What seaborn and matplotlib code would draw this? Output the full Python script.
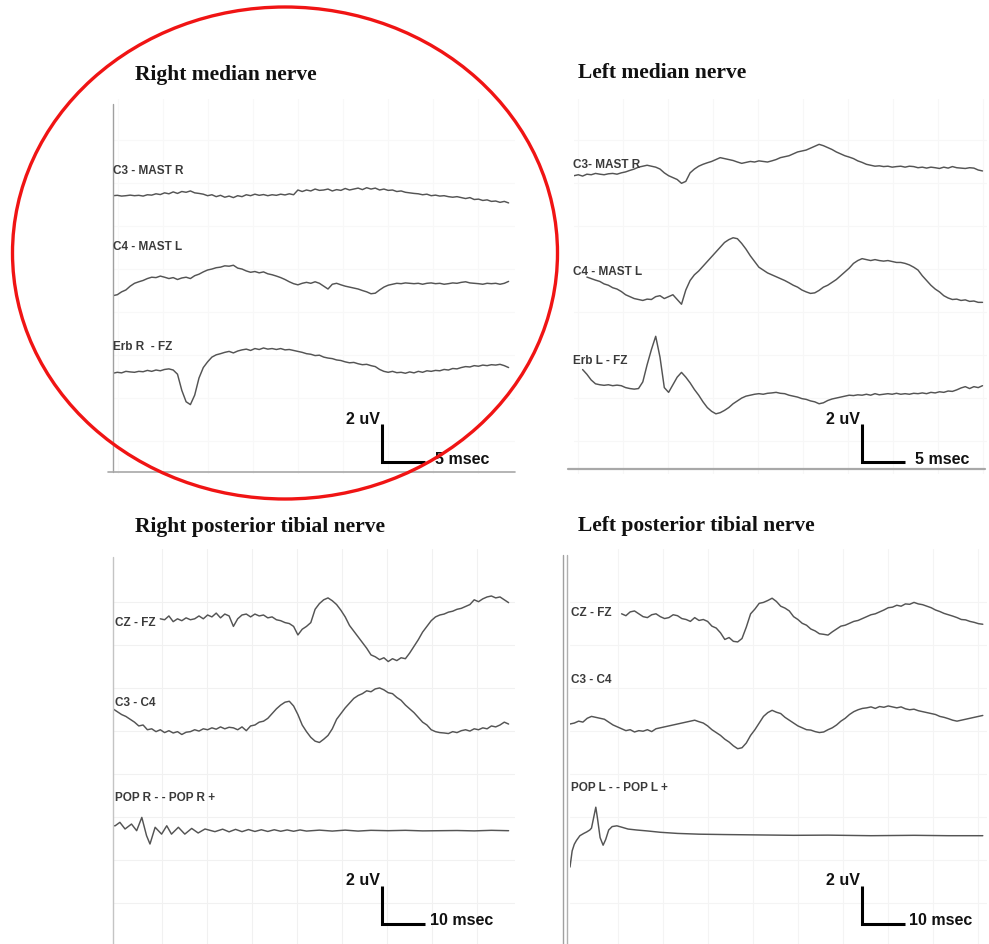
import numpy as np
import matplotlib
matplotlib.use("Agg")
import matplotlib.pyplot as plt
import seaborn as sns
from matplotlib.patches import Ellipse
from matplotlib.lines import Line2D

nan = np.nan

# ---------------- data: evoked potentials, amplitude in uV, time in ms ----------------
# right median nerve (0.5 ms samples)
tl_t = np.arange(93) * 0.5
tl_c3 = [0, 0.02, -0.02, 0.0, 0.03, 0.0, 0.02, -0.02, 0.05, 0.03,
         0.1, 0.06, 0.15, 0.1, 0.2, 0.12, 0.22, 0.18, 0.25, 0.15,
         0.12, 0.08, 0.0, 0.05, -0.05, 0.02, -0.08, -0.02, -0.1, 0.0,
         -0.05, 0.05, 0.0, 0.08, 0.02, 0.06, 0.0, 0.05, 0.02, 0.08,
         0.04, 0.1, 0.05, 0.3, 0.22, 0.3, 0.25, 0.35, 0.28, 0.3,
         0.35, 0.25, 0.32, 0.28, 0.38, 0.3, 0.35, 0.4, 0.32, 0.42,
         0.35, 0.4, 0.3, 0.35, 0.28, 0.3, 0.22, 0.25, 0.18, 0.15,
         0.12, 0.1, 0.05, 0.08, 0.0, 0.03, -0.02, 0.0, -0.05, -0.08,
         -0.05, -0.1, -0.15, -0.1, -0.2, -0.18, -0.25, -0.22, -0.3, -0.28,
         -0.35, -0.3, -0.38]
tl_c4 = [-0.35, -0.3, -0.15, -0.05, 0.15, 0.3, 0.38, 0.45, 0.55, 0.62,
         0.6, 0.68, 0.62, 0.55, 0.6, 0.5, 0.58, 0.62, 0.55, 0.7,
         0.78, 0.9, 1.0, 1.05, 1.12, 1.15, 1.22, 1.2, 1.25, 1.1,
         1.05, 0.95, 0.88, 0.92, 0.85, 0.9, 0.8, 0.75, 0.68, 0.6,
         0.5, 0.38, 0.28, 0.22, 0.3, 0.35, 0.3, 0.38, 0.3, 0.15,
         0.0, 0.25, 0.3, 0.22, 0.15, 0.1, 0.05, 0.0, -0.08, -0.15,
         -0.25, -0.22, -0.05, 0.1, 0.2, 0.25, 0.3, 0.28, 0.32, 0.3,
         0.28, 0.3, 0.25, 0.3, 0.32, 0.28, 0.3, 0.25, 0.28, 0.32,
         0.3, 0.35, 0.38, 0.32, 0.3, 0.28, 0.25, 0.3, 0.28, 0.3,
         0.25, 0.3, 0.4]
tl_erb = [-0.05, 0.0, -0.03, 0.05, 0.02, 0.0, 0.05, 0.03, 0.1, 0.05,
          0.12, 0.08, 0.15, 0.18, 0.12, -0.1, -0.95, -1.55, -1.7, -1.2,
          -0.3, 0.25, 0.55, 0.8, 0.92, 0.98, 1.05, 1.1, 1.02, 1.12,
          1.18, 1.22, 1.15, 1.25, 1.2, 1.28, 1.22, 1.25, 1.2, 1.25,
          1.18, 1.2, 1.15, 1.1, 1.05, 0.98, 0.95, 0.88, 0.9, 0.8,
          0.75, 0.72, 0.65, 0.62, 0.55, 0.5, 0.52, 0.45, 0.4, 0.42,
          0.35, 0.3, 0.15, 0.05, 0.0, 0.05, -0.02, 0.0, -0.05, 0.02,
          -0.03, 0.05, 0.0, 0.08, 0.05, 0.1, 0.08, 0.15, 0.12, 0.2,
          0.18, 0.25, 0.3, 0.28, 0.35, 0.32, 0.38, 0.35, 0.4, 0.38,
          0.42, 0.35, 0.25]

# left median nerve (0.5 ms samples)
tr_t = np.arange(96) * 0.5
tr_c3 = [0.0, 0.05, -0.02, 0.08, 0.05, 0.12, 0.08, 0.05, 0.1, 0.12,
         0.08, 0.15, 0.2, 0.28, 0.35, 0.45, 0.5, 0.55, 0.5, 0.45,
         0.35, 0.15, 0.0, -0.1, -0.2, -0.4, -0.3, 0.15, 0.35, 0.5,
         0.6, 0.68, 0.75, 0.85, 0.95, 0.9, 0.85, 0.8, 0.72, 0.65,
         0.7, 0.75, 0.72, 0.78, 0.75, 0.72, 0.78, 0.85, 0.95, 1.0,
         1.05, 1.15, 1.25, 1.3, 1.35, 1.45, 1.55, 1.65, 1.58, 1.48,
         1.38, 1.25, 1.15, 1.05, 0.98, 0.9, 0.78, 0.7, 0.6, 0.55,
         0.5, 0.52, 0.48, 0.5, 0.45, 0.48, 0.5, 0.45, 0.5, 0.48,
         0.42, 0.45, 0.4, 0.45, 0.42, 0.38, 0.45, 0.4, 0.48, 0.42,
         0.4, 0.38, 0.42, 0.4, 0.3, 0.25]
tr_c4 = [nan, nan, nan, 0.98, 0.9, 0.82, 0.75, 0.62, 0.55, 0.42,
         0.35, 0.22, 0.05, -0.05, -0.15, -0.2, -0.25, -0.18, -0.2, -0.05,
         0.0, -0.15, -0.05, 0.05, -0.2, -0.45, 0.3, 0.8, 1.1, 1.3,
         1.55, 1.8, 2.05, 2.3, 2.55, 2.8, 2.95, 3.05, 3.0, 2.75,
         2.45, 2.1, 1.8, 1.5, 1.35, 1.2, 1.1, 1.0, 0.9, 0.8,
         0.68, 0.55, 0.45, 0.3, 0.2, 0.12, 0.15, 0.28, 0.45, 0.55,
         0.7, 0.85, 1.05, 1.25, 1.45, 1.7, 1.85, 1.95, 1.9, 1.85,
         1.9, 1.85, 1.82, 1.85, 1.8, 1.75, 1.75, 1.7, 1.62, 1.5,
         1.35, 1.05, 0.8, 0.55, 0.35, 0.2, 0.0, -0.12, -0.2, -0.18,
         -0.25, -0.22, -0.3, -0.28, -0.35, -0.35]
tr_erb = [nan, nan, 0.85, 0.6, 0.3, 0.1, 0.05, 0.02, 0.05, 0.0,
          0.03, 0.0, -0.1, -0.15, -0.18, -0.15, 0.2, 1.1, 1.9, 2.6,
          1.5, -0.1, -0.35, 0.05, 0.45, 0.7, 0.45, 0.15, -0.2, -0.5,
          -0.85, -1.15, -1.35, -1.48, -1.42, -1.3, -1.15, -0.95, -0.8, -0.65,
          -0.55, -0.5, -0.45, -0.42, -0.45, -0.4, -0.38, -0.35, -0.4, -0.42,
          -0.5, -0.55, -0.6, -0.68, -0.72, -0.8, -0.85, -0.95, -0.9, -0.78,
          -0.7, -0.65, -0.6, -0.55, -0.5, -0.52, -0.48, -0.5, -0.45, -0.5,
          -0.42, -0.48, -0.45, -0.42, -0.45, -0.4, -0.45, -0.42, -0.45, -0.4,
          -0.42, -0.38, -0.42, -0.35, -0.38, -0.32, -0.35, -0.28, -0.3, -0.22,
          -0.12, -0.05, -0.15, -0.05, -0.1, 0.0]

# right posterior tibial nerve (1 ms samples)
bl_t = np.arange(93) * 1.0
bl_cz = [nan] * 11 + [
    0.1, 0.05, 0.25, -0.05, 0.1, 0.0, 0.15, 0.05, 0.1, 0.25,
    0.1, 0.3, 0.2, 0.4, 0.15, 0.35, 0.25, -0.3, 0.1, 0.3,
    0.35, 0.2, 0.35, 0.25, 0.3, 0.15, 0.2, 0.05, 0.0, -0.1,
    -0.15, -0.3, -0.75, -0.45, -0.3, -0.1, 0.6, 0.9, 1.1, 1.2,
    1.05, 0.85, 0.55, 0.2, -0.25, -0.55, -0.85, -1.15, -1.45, -1.8,
    -1.9, -2.05, -1.95, -2.15, -2.0, -2.1, -1.95, -2.0, -1.7, -1.35,
    -1.0, -0.6, -0.3, 0.0, 0.2, 0.3, 0.35, 0.45, 0.5, 0.6,
    0.65, 0.75, 0.85, 1.1, 1.0, 1.15, 1.25, 1.3, 1.2, 1.25,
    1.1, 0.95]
bl_c3c4 = [1.15, 1.0, 0.85, 0.75, 0.6, 0.45, 0.25, 0.3, 0.05, 0.1,
           -0.05, 0.05, -0.1, 0.0, -0.12, -0.05, -0.2, -0.08, -0.05, 0.05,
           -0.02, 0.1, 0.05, 0.15, 0.08, 0.2, 0.1, 0.18, 0.15, 0.05,
           0.2, 0.0, 0.25, 0.3, 0.45, 0.5, 0.65, 0.9, 1.15, 1.35,
           1.5, 1.55, 1.3, 0.85, 0.3, -0.05, -0.35, -0.55, -0.62, -0.45,
           -0.25, 0.1, 0.6, 0.9, 1.2, 1.45, 1.7, 1.85, 1.95, 2.1,
           2.05, 2.2, 2.25, 2.15, 2.0, 1.95, 1.75, 1.6, 1.35, 1.15,
           0.95, 0.7, 0.45, 0.3, 0.05, -0.05, -0.1, -0.12, -0.15, -0.05,
           -0.1, 0.0, 0.05, -0.02, 0.1, 0.05, 0.15, 0.1, 0.25, 0.2,
           0.3, 0.45, 0.35]
pop_r_t = [0.0, 0.5, 1.6, 2.8, 4.3, 5.5, 6.7, 7.8, 8.6, 9.8,
           11.3, 12.5, 13.6, 15.2, 16.7, 18.3, 19.8, 21.4, 23.7, 25.5,
           27, 28.5, 30, 31.5, 33, 34.5, 36, 37.5, 39, 40.5,
           42, 43.5, 45, 48, 51, 54, 57, 60, 64, 68,
           72, 76, 80, 84, 88, 92]
pop_r_uv = [0.26, 0.26, 0.44, 0.09, 0.35, 0.0, 0.7, -0.26, -0.7, 0.18,
            -0.18, 0.26, -0.18, 0.18, -0.18, 0.12, -0.12, 0.09, -0.05, 0.08,
            -0.06, 0.07, -0.05, 0.06, -0.04, 0.05, -0.04, 0.05, -0.03, 0.04,
            -0.03, 0.04, -0.02, 0.03, -0.02, 0.03, -0.02, 0.02, 0.0, 0.02,
            -0.01, 0.0, 0.01, -0.01, 0.02, 0.0]

# left posterior tibial nerve (1 ms samples)
br_t = np.arange(97) * 1.0
br_cz = [nan] * 12 + [
    0.1, 0.0, 0.2, 0.25, 0.1, -0.05, -0.1, 0.05, 0.1, -0.05,
    -0.15, -0.1, 0.05, 0.0, -0.15, -0.2, -0.3, -0.1, -0.25, -0.2,
    -0.3, -0.55, -0.65, -0.9, -1.25, -1.15, -1.35, -1.38, -1.2, -0.6,
    0.1, 0.35, 0.65, 0.7, 0.8, 0.92, 0.75, 0.5, 0.4, 0.25,
    -0.05, -0.2, -0.4, -0.5, -0.7, -0.8, -0.95, -0.98, -1.02, -0.85,
    -0.7, -0.55, -0.5, -0.4, -0.3, -0.25, -0.15, -0.05, 0.05, 0.1,
    0.2, 0.3, 0.42, 0.45, 0.55, 0.5, 0.62, 0.6, 0.7, 0.62,
    0.58, 0.5, 0.42, 0.3, 0.22, 0.12, 0.05, -0.02, -0.1, -0.2,
    -0.22, -0.3, -0.35, -0.42, -0.45]
br_c3c4 = [0.0, 0.05, 0.15, 0.1, 0.3, 0.4, 0.35, 0.3, 0.25, 0.1,
           -0.05, -0.15, -0.25, -0.35, -0.3, -0.42, -0.35, -0.38, -0.3, -0.4,
           -0.25, -0.2, -0.15, -0.1, -0.05, 0.0, 0.05, 0.1, 0.15, 0.2,
           0.12, 0.05, -0.1, -0.3, -0.45, -0.6, -0.8, -0.95, -1.15, -1.3,
           -1.25, -1.0, -0.6, -0.3, 0.05, 0.4, 0.6, 0.72, 0.62, 0.55,
           0.35, 0.2, 0.05, -0.1, -0.2, -0.3, -0.32, -0.4, -0.45, -0.42,
           -0.3, -0.2, -0.05, 0.15, 0.3, 0.5, 0.65, 0.75, 0.82, 0.85,
           0.9, 0.82, 0.92, 0.88, 0.95, 0.9, 0.85, 0.9, 0.8, 0.75,
           0.78, 0.7, 0.65, 0.6, 0.55, 0.5, 0.4, 0.35, 0.28, 0.2,
           0.15, 0.2, 0.25, 0.3, 0.35, 0.4, 0.45]
pop_l_t = [0, 0.5, 1.0, 1.5, 2.3, 3.2, 3.9, 4.6, 5.0, 5.5,
           6.0, 6.4, 7.0, 7.7, 8.3, 9.0, 9.8, 10.9, 12, 13.5,
           15.5, 18, 21, 25, 30, 36, 44, 52, 60, 70,
           80, 88, 96]
pop_l_uv = [-1.65, -0.8, -0.45, -0.25, 0.0, 0.12, 0.2, 0.3, 0.4, 0.95,
            1.5, 0.9, -0.1, -0.5, -0.2, 0.3, 0.48, 0.52, 0.45, 0.35,
            0.3, 0.25, 0.18, 0.12, 0.08, 0.06, 0.04, 0.02, 0.03, 0.0,
            0.02, 0.0, 0.0]

# ---------------- layout (image pixels) ----------------
W, H = 989, 945
UV_PX = 19.0          # pixels per uV
TRACE = "#545454"

PANELS = [
    dict(title="Right median nerve", title_xy=(135, 75), box=(113, 100, 515, 475), ms_px=8.6,
         traces=[("C3 - MAST R", tl_t, tl_c3, 196.7, 113, 171),
                 ("C4 - MAST L", tl_t, tl_c4, 290.0, 113, 247),
                 ("Erb R  - FZ", tl_t, tl_erb, 373.3, 113, 347)],
         bar=(381.7, 463, 5), gap=10, grid=(118, 141), grid_color="#f8f8f8"),
    dict(title="Left median nerve", title_xy=(578, 73), box=(574, 100, 987, 475), ms_px=8.6,
         traces=[("C3- MAST R", tr_t, tr_c3, 176.7, 573, 165),
                 ("C4 - MAST L", tr_t, tr_c4, 296.7, 573, 272),
                 ("Erb L - FZ", tr_t, tr_erb, 386.7, 573, 361)],
         bar=(861.7, 463, 5), gap=10, grid=(578, 141), grid_color="#f7f7f7"),
    dict(title="Right posterior tibial nerve", title_xy=(135, 527), box=(113, 550, 515, 945), ms_px=4.3,
         traces=[("CZ - FZ", bl_t, bl_cz, 621.7, 115, 623),
                 ("C3 - C4", bl_t, bl_c3c4, 731.7, 115, 703),
                 ("POP R - - POP R +", pop_r_t, pop_r_uv, 831.7, 115, 798)],
         bar=(381.7, 925, 10), gap=5, grid=(162, 603), grid_color="#f1f1f1"),
    dict(title="Left posterior tibial nerve", title_xy=(578, 526), box=(570, 550, 987, 945), ms_px=4.3,
         traces=[("CZ - FZ", br_t, br_cz, 616.7, 571, 613),
                 ("C3 - C4", br_t, br_c3c4, 725.0, 571, 680),
                 ("POP L - - POP L +", pop_l_t, pop_l_uv, 836.7, 571, 788)],
         bar=(861.7, 925, 10), gap=4, grid=(618, 603), grid_color="#f4f4f4"),
]

BORDERS = [  # (x1, y1, x2, y2, color, width)
    (113, 105, 113, 473, "#a0a0a0", 1.0),
    (108, 473, 515, 473, "#a8a8a8", 1.2),
    (568, 470, 985, 470, "#a8a8a8", 1.6),
    (113, 558, 113, 945, "#c4c4c4", 1.0),
    (563, 556, 563, 945, "#a0a0a0", 1.0),
    (566.5, 556, 566.5, 945, "#b0b0b0", 1.0),
]

sns.set_style("white")
plt.rcParams["font.family"] = ["Liberation Sans", "DejaVu Sans"]

fig = plt.figure(figsize=(W / 100, H / 100), dpi=100)


def fx(px):
    return px / W


def fy(py):
    return 1 - py / H


for p in PANELS:
    left, top, right, bottom = p["box"]
    ms_px = p["ms_px"]
    ax = fig.add_axes([fx(left), fy(bottom), fx(right) - fx(left), fy(top) - fy(bottom)])
    ax.set_xlim(0, (right - left) / ms_px)
    ax.set_ylim(0, (bottom - top) / UV_PX)
    ax.axis("off")

    def to_t(px):
        return (px - left) / ms_px

    def to_y(py):
        return (bottom - py) / UV_PX

    # faint chart-paper grid
    gx, gy = p["grid"]
    for px in np.arange(gx, right, 45):
        ax.axvline(to_t(px), color=p["grid_color"], lw=0.8, zorder=0)
    for py in np.arange(gy, bottom, 43):
        ax.axhline(to_y(py), color=p["grid_color"], lw=0.8, zorder=0)

    for label, t, uv, base_py, lab_px, lab_py in p["traces"]:
        sns.lineplot(x=np.asarray(t, float), y=np.asarray(uv, float) + to_y(base_py),
                     ax=ax, color=TRACE, linewidth=1.05, estimator=None, sort=False)
        fig.text(fx(lab_px), fy(lab_py), label, ha="left", va="center",
                 fontsize=8.5, fontweight="bold", color="#3a3a3a")

    # calibration bar: 2 uV vertical, 5 / 10 ms horizontal
    bx, by, bms = p["bar"]
    t0, y0 = to_t(bx), to_y(by)
    ax.plot([t0, t0, t0 + bms], [y0 + 2, y0, y0], color="black", lw=2.2,
            solid_joinstyle="miter", solid_capstyle="butt", zorder=5)
    bar_top_py = by - 2 * UV_PX
    bar_end_px = bx + bms * ms_px
    fig.text(fx(bx - 2), fy(bar_top_py - 6), "2 uV", ha="right", va="center",
             fontsize=11.5, fontweight="bold", color="#111111")
    fig.text(fx(bar_end_px + p["gap"]), fy(by - 4), f"{bms} msec", ha="left", va="center",
             fontsize=11.5, fontweight="bold", color="#111111")

    tx, ty = p["title_xy"]
    fig.text(fx(tx), fy(ty), p["title"], ha="left", va="center", fontsize=15.5,
             fontweight="bold", family=["Liberation Serif", "DejaVu Serif"], color="#111111")

for x1, y1, x2, y2, c, w in BORDERS:
    fig.add_artist(Line2D([fx(x1), fx(x2)], [fy(y1), fy(y2)], color=c, lw=w,
                          transform=fig.transFigure))

fig.add_artist(Ellipse((fx(285), fy(254)), width=545 / W, height=492 / H,
                       transform=fig.transFigure, fill=False, ec="#f01414", lw=2.4, zorder=20))

fig.savefig("out.png", dpi=100, facecolor="white")
